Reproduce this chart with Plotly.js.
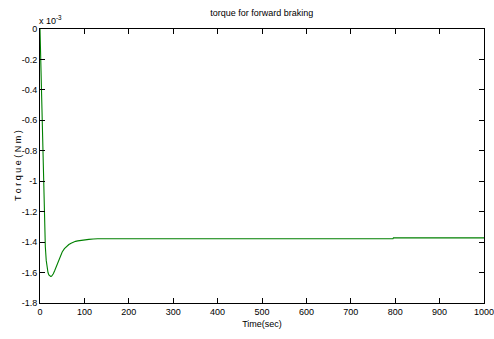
<!DOCTYPE html>
<html><head><meta charset="utf-8">
<script src="https://cdn.plot.ly/plotly-3.0.1.min.js"></script>
<style>body{margin:0;padding:0;background:#fff}#chart{width:494px;height:339px}</style>
</head><body><div id="chart"></div>
<script>
// time in seconds, torque in units of 1e-3 N m
const timeSec = [0, 1, 2, 3, 4, 5, 6, 7, 8, 9, 10, 11, 12, 14, 16, 18, 20, 22, 24, 26, 28, 30, 33, 36, 40, 45, 50, 55, 60, 65, 70, 75, 80, 85, 90, 95, 100, 110, 120, 130, 200, 400, 600, 795, 796, 900, 1000];
const torqueE3 = [0, -0.12, -0.26, -0.4, -0.54, -0.68, -0.81, -0.94, -1.06, -1.17, -1.27, -1.36, -1.43, -1.52, -1.57, -1.6, -1.615, -1.622, -1.625, -1.624, -1.618, -1.608, -1.588, -1.565, -1.532, -1.495, -1.465, -1.443, -1.428, -1.416, -1.407, -1.4, -1.395, -1.392, -1.389, -1.387, -1.385, -1.382, -1.38, -1.378, -1.378, -1.378, -1.378, -1.378, -1.372, -1.372, -1.372];
const xTicks = [0, 100, 200, 300, 400, 500, 600, 700, 800, 900, 1000];
const yTicks = [0, -0.2, -0.4, -0.6, -0.8, -1, -1.2, -1.4, -1.6, -1.8];
const yTickText = ['0', '-0.2', '-0.4', '-0.6', '-0.8', '-1', '-1.2', '-1.4', '-1.6', '-1.8'];

const fnt = {family: 'Liberation Sans Narrow, Arial Narrow, Liberation Sans, Arial, sans-serif', size: 9, color: '#000'};
const axisCommon = {
  showgrid: false, zeroline: false, showline: true, linecolor: '#000', linewidth: 1,
  mirror: 'ticks', ticks: 'inside', ticklen: 5, tickcolor: '#000', tickwidth: 1,
  tickfont: fnt, automargin: false, ticklabeloverflow: 'allow'
};
const data = [{
  x: timeSec, y: torqueE3, type: 'scatter', mode: 'lines',
  line: {color: 'rgb(0,128,0)', width: 1.1},
  hoverinfo: 'skip', cliponaxis: false
}];
const layout = {
  width: 494, height: 339,
  margin: {l: 39.5, r: 9.5, t: 28.5, b: 36},
  paper_bgcolor: '#fff', plot_bgcolor: '#fff',
  showlegend: false,
  title: {text: 'torque for forward braking', font: fnt, x: 0.53, xanchor: 'center', y: 0.962, yanchor: 'middle'},
  xaxis: Object.assign({}, axisCommon, {
    range: [0, 1000], tickvals: xTicks, ticktext: xTicks.map(String),
    title: {text: 'Time(sec)', font: fnt, standoff: 4}
  }),
  yaxis: Object.assign({}, axisCommon, {
    range: [-1.8, 0], tickvals: yTicks, ticktext: yTickText
  }),
  annotations: [{
    text: 'x 10<sup>-3</sup>', xref: 'paper', yref: 'paper', x: 0, y: 1,
    xanchor: 'center', yanchor: 'bottom', showarrow: false, font: fnt, xshift: 10, yshift: 1
  }, {
    text: 'T o r q u e ( N m )', xref: 'paper', yref: 'paper', x: 0, y: 0.5,
    xanchor: 'center', yanchor: 'middle', textangle: -90, showarrow: false, font: fnt, xshift: -22
  }]
};
Plotly.newPlot('chart', data, layout, {displayModeBar: false, staticPlot: true});
</script></body></html>
